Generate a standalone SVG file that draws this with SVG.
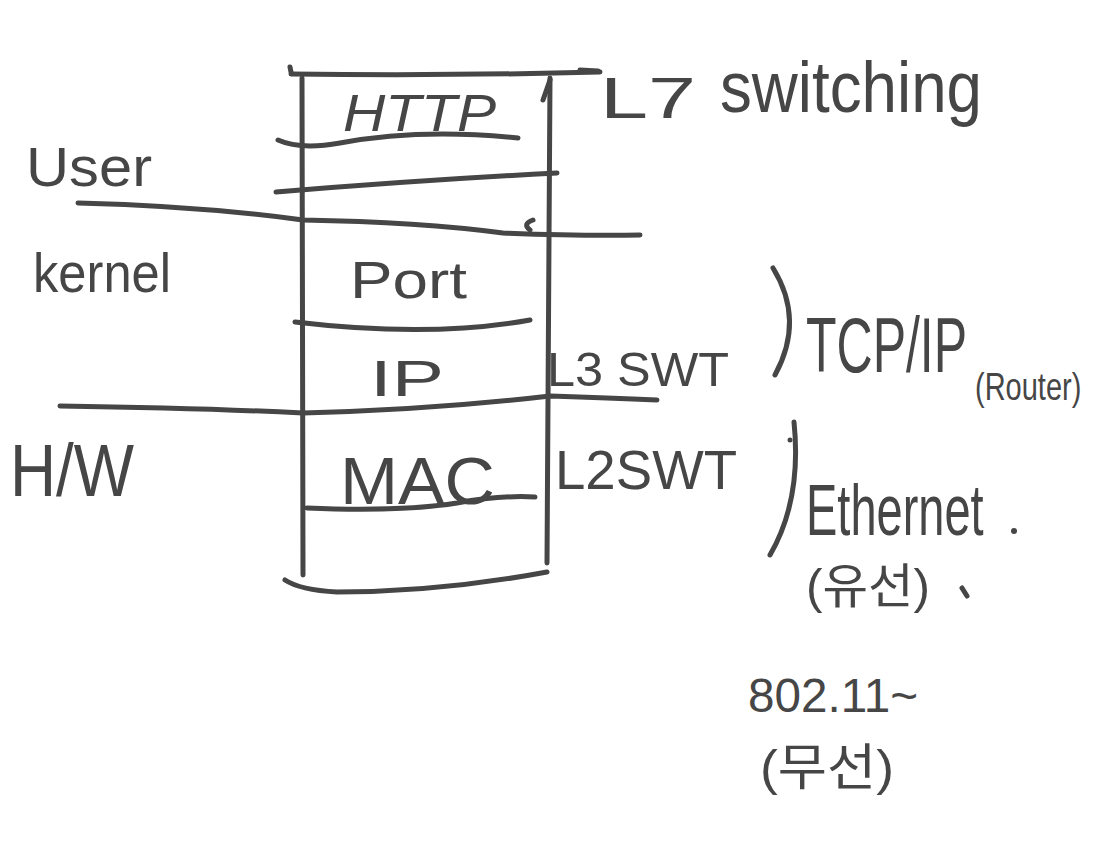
<svg xmlns="http://www.w3.org/2000/svg" width="1096" height="844" viewBox="0 0 1096 844">
<style>
.s{fill:none;stroke:#464646;stroke-width:5;stroke-linecap:round;stroke-linejoin:round}
.t{fill:#464646;font-family:"Liberation Sans","Noto Sans CJK KR",sans-serif}
</style>
<rect width="1096" height="844" fill="#ffffff"/>
<g id="lines">
<path class="s" d="M290,67 L291,72"/>
<path class="s" d="M291,74 Q450,76 600,72"/>
<path class="s" d="M302,78 L303,575"/>
<path class="s" d="M550,78 L547,563"/>
<path class="s" d="M543,100 L550,80"/>
<path class="s" d="M278,140 Q300,150 340,143 Q420,128 518,138"/>
<path class="s" d="M276,192 Q420,180 557,173"/>
<path class="s" d="M78,203 Q200,206 303,220 Q420,222 503,233 Q580,236 640,235"/>
<path class="s" d="M533,220 Q522,224 530,230"/>
<path class="s" d="M295,322 Q430,338 530,320"/>
<path class="s" d="M60,406 Q200,408 303,413 Q430,410 550,396 Q610,398 657,400"/>
<path class="s" d="M307,508 Q400,512 457,503 Q500,495 535,497"/>
<path class="s" d="M285,580 Q300,590 337,592 Q440,592 547,572"/>
<path class="s" d="M773,268 Q805,320 775,375"/>
<path class="s" d="M794,422 Q802,500 770,555"/>
<circle cx="790" cy="440" r="2.5" fill="#464646"/>
<path class="s" d="M580,70 L598,71"/>
<circle cx="1014" cy="531" r="3" fill="#464646"/>
<path class="s" d="M962,588 L967,596"/>
</g>
<g id="stack">
<text class="t" x="343" y="131" font-size="52" textLength="153" lengthAdjust="spacingAndGlyphs" font-style="italic">HTTP</text>
<text class="t" x="350" y="298" font-size="52" textLength="117" lengthAdjust="spacingAndGlyphs">Port</text>
<text class="t" x="370" y="396" font-size="50" textLength="74" lengthAdjust="spacingAndGlyphs">IP</text>
<text class="t" x="340" y="504" font-size="66" textLength="155" lengthAdjust="spacingAndGlyphs">MAC</text>
</g>
<g id="left-labels">
<text class="t" x="26" y="186" font-size="56" textLength="126" lengthAdjust="spacingAndGlyphs">User</text>
<text class="t" x="33" y="292" font-size="56" textLength="138" lengthAdjust="spacingAndGlyphs">kernel</text>
<text class="t" x="10" y="496" font-size="74" textLength="124" lengthAdjust="spacingAndGlyphs">H/W</text>
</g>
<g id="right-labels">
<text class="t" x="600" y="118" font-size="58" textLength="96" lengthAdjust="spacingAndGlyphs">L7</text>
<text class="t" x="720" y="112" font-size="72" textLength="262" lengthAdjust="spacingAndGlyphs">switching</text>
<text class="t" x="547" y="386" font-size="48" textLength="182" lengthAdjust="spacingAndGlyphs">L3 SWT</text>
<text class="t" x="555" y="489" font-size="56" textLength="182" lengthAdjust="spacingAndGlyphs">L2SWT</text>
<text class="t" transform="translate(806,372) scale(1,1.55)" font-size="50">TCP/IP</text>
<text class="t" transform="translate(975,400) scale(1,1.35)" font-size="29">(Router)</text>
<text class="t" transform="translate(806,535) scale(1,1.55)" font-size="47">Ethernet</text>
<text class="t" x="806" y="603" font-size="48" textLength="124" lengthAdjust="spacingAndGlyphs">(유선)</text>
<text class="t" x="748" y="712" font-size="48" textLength="170" lengthAdjust="spacingAndGlyphs">802.11~</text>
<text class="t" x="760" y="785" font-size="50" textLength="134" lengthAdjust="spacingAndGlyphs">(무선)</text>
</g>
</svg>
